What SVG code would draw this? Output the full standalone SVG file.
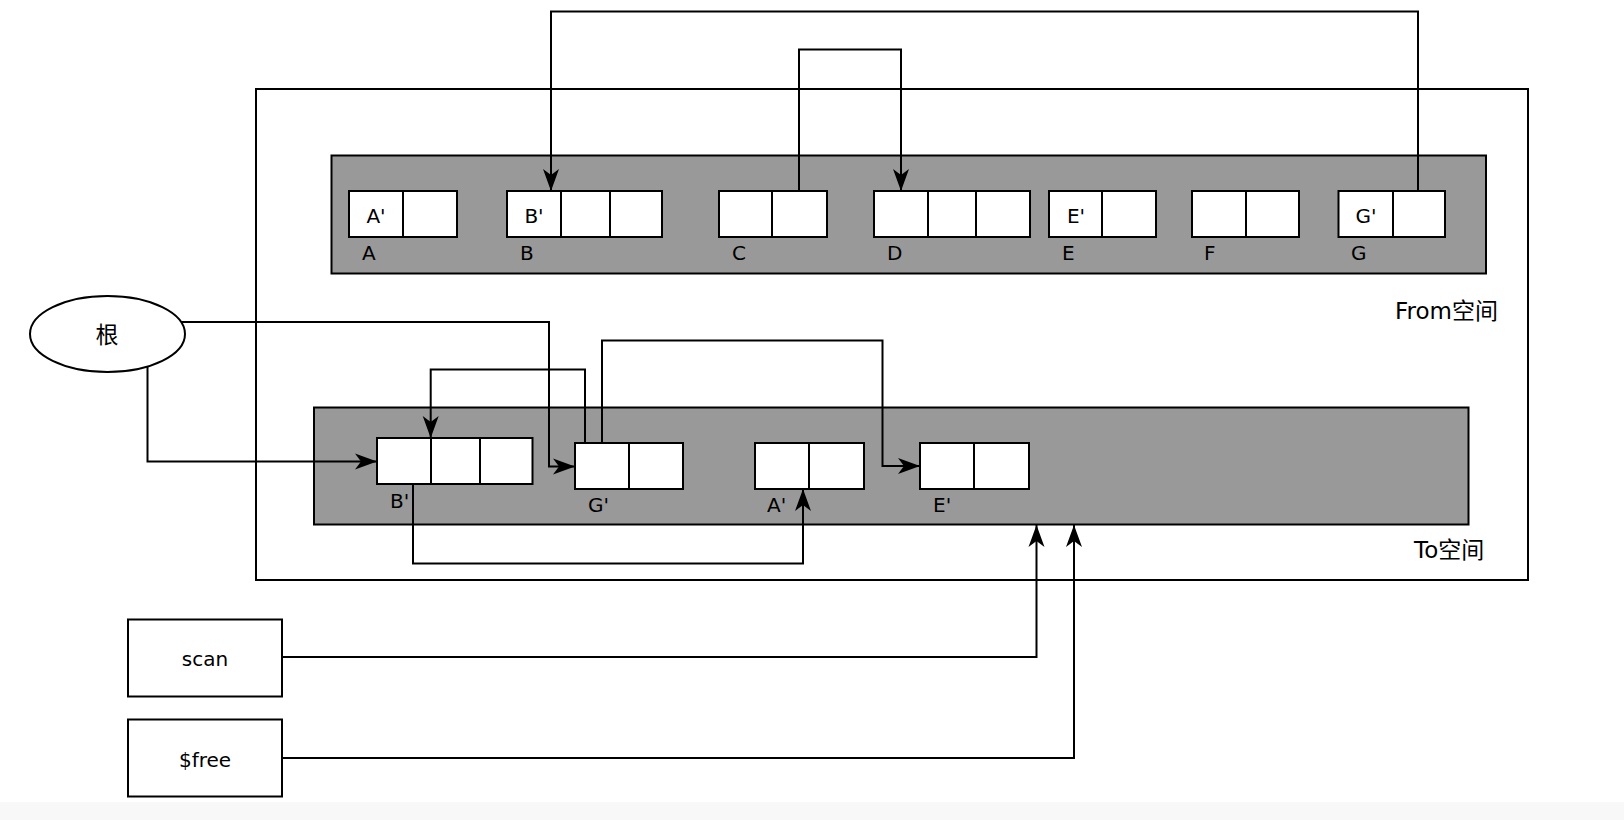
<svg xmlns="http://www.w3.org/2000/svg" width="1624" height="820" viewBox="0 0 1624 820">
<style>
  .ln{fill:none;stroke:#000;stroke-width:2}
  .cell{fill:#fff;stroke:#000;stroke-width:2}
  .gray{fill:#999;stroke:#000;stroke-width:2}
  .box{fill:#fff;stroke:#000;stroke-width:2}
  text{font-family:"DejaVu Sans","Noto Sans CJK SC",sans-serif;fill:#000}
  .ct{font-size:20px;text-anchor:middle}
  .lb{font-size:20px}
  .big{font-size:23px}
</style>
<defs>
  <marker id="arr" markerUnits="userSpaceOnUse" markerWidth="26" markerHeight="20" viewBox="-24 -10 26 20" refX="0" refY="0" orient="auto">
    <path d="M0,0 L-22,-8 L-16,0 L-22,8 Z" fill="#000"/>
  </marker>
</defs>
<rect x="0" y="0" width="1624" height="820" fill="#fff"/>
<rect x="0" y="802" width="1624" height="18" fill="#f8f8f8"/>

<g id="outer">
  <rect class="box" x="256" y="89" width="1272" height="491"/>
  <text class="big" x="1395" y="319">From空间</text>
  <text class="big" x="1414" y="558">To空间</text>
</g>

<g id="from-space">
  <rect class="gray" x="331.5" y="155.5" width="1154.5" height="118"/>
</g>
<g id="to-space">
  <rect class="gray" x="314" y="407.5" width="1154.5" height="117"/>
</g>

<g id="connectors">
  <path class="ln" d="M1418,191 V11.5 H551 V191" marker-end="url(#arr)"/>
  <path class="ln" d="M799,191 V49.5 H901 V191" marker-end="url(#arr)"/>
  <path class="ln" d="M181,322 H549 V466.5 H575" marker-end="url(#arr)"/>
  <path class="ln" d="M147.5,367 V461.5 H377" marker-end="url(#arr)"/>
  <path class="ln" d="M585,443 V369.5 H430.7 V438" marker-end="url(#arr)"/>
  <path class="ln" d="M602,443 V340.5 H882.5 V466 H920" marker-end="url(#arr)"/>
  <path class="ln" d="M413,484 V563.5 H803 V489" marker-end="url(#arr)"/>
  <path class="ln" d="M282,657 H1036.5 V525" marker-end="url(#arr)"/>
  <path class="ln" d="M282,758 H1074 V525" marker-end="url(#arr)"/>
</g>

<g id="A">
  <rect class="cell" x="349" y="191" width="54" height="46"/>
  <rect class="cell" x="403" y="191" width="54" height="46"/>
  <text class="ct" x="376" y="223">A'</text>
  <text class="lb" x="362" y="260">A</text>
</g>
<g id="B">
  <rect class="cell" x="507" y="191" width="54" height="46"/>
  <rect class="cell" x="561" y="191" width="49" height="46"/>
  <rect class="cell" x="610" y="191" width="52" height="46"/>
  <text class="ct" x="534" y="223">B'</text>
  <text class="lb" x="520" y="260">B</text>
</g>
<g id="C">
  <rect class="cell" x="719" y="191" width="53" height="46"/>
  <rect class="cell" x="772" y="191" width="55" height="46"/>
  <text class="lb" x="732" y="260">C</text>
</g>
<g id="D">
  <rect class="cell" x="874" y="191" width="54" height="46"/>
  <rect class="cell" x="928" y="191" width="48" height="46"/>
  <rect class="cell" x="976" y="191" width="54" height="46"/>
  <text class="lb" x="887" y="260">D</text>
</g>
<g id="E">
  <rect class="cell" x="1049" y="191" width="53" height="46"/>
  <rect class="cell" x="1102" y="191" width="54" height="46"/>
  <text class="ct" x="1076" y="223">E'</text>
  <text class="lb" x="1062" y="260">E</text>
</g>
<g id="F">
  <rect class="cell" x="1192" y="191" width="54" height="46"/>
  <rect class="cell" x="1246" y="191" width="53" height="46"/>
  <text class="lb" x="1204" y="260">F</text>
</g>
<g id="G">
  <rect class="cell" x="1338.5" y="191" width="54.5" height="46"/>
  <rect class="cell" x="1393" y="191" width="52" height="46"/>
  <text class="ct" x="1366" y="223">G'</text>
  <text class="lb" x="1351" y="260">G</text>
</g>

<g id="Bp">
  <rect class="cell" x="377" y="438" width="54" height="46"/>
  <rect class="cell" x="431" y="438" width="49" height="46"/>
  <rect class="cell" x="480" y="438" width="52.5" height="46"/>
  <text class="lb" x="390" y="508">B'</text>
</g>
<g id="Gp">
  <rect class="cell" x="575" y="443" width="54" height="46"/>
  <rect class="cell" x="629" y="443" width="54" height="46"/>
  <text class="lb" x="588" y="512">G'</text>
</g>
<g id="Ap">
  <rect class="cell" x="755" y="443" width="54" height="46"/>
  <rect class="cell" x="809" y="443" width="55" height="46"/>
  <text class="lb" x="767" y="512">A'</text>
</g>
<g id="Ep">
  <rect class="cell" x="920" y="443" width="54" height="46"/>
  <rect class="cell" x="974" y="443" width="55" height="46"/>
  <text class="lb" x="933" y="512">E'</text>
</g>

<g id="root">
  <ellipse class="box" cx="107.5" cy="334" rx="77.5" ry="38"/>
  <text class="big" x="107" y="343" text-anchor="middle">根</text>
</g>
<g id="scan">
  <rect class="box" x="128" y="619.5" width="154" height="77"/>
  <text x="205" y="666" font-size="20" text-anchor="middle">scan</text>
</g>
<g id="free">
  <rect class="box" x="128" y="719.5" width="154" height="77"/>
  <text x="205" y="767" font-size="20" text-anchor="middle">$free</text>
</g>
</svg>
